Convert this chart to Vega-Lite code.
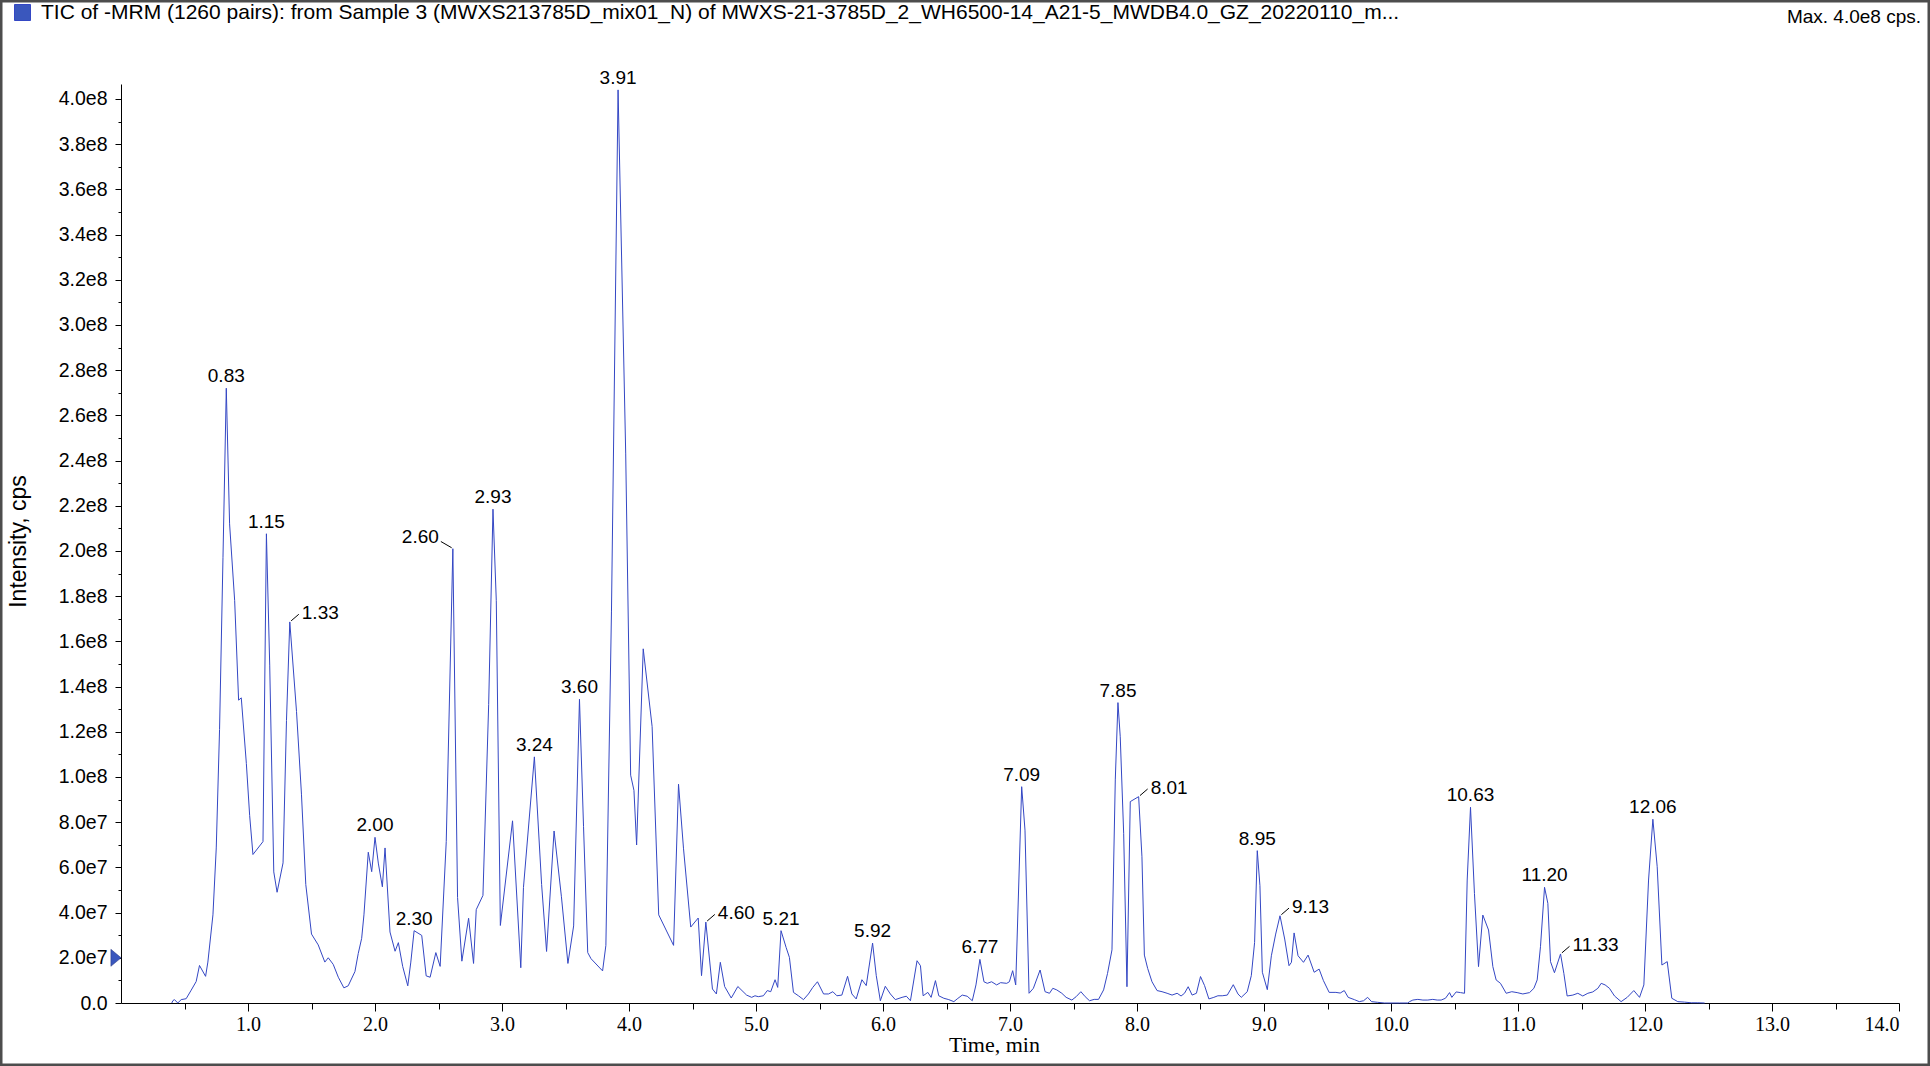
{
  "$schema": "https://vega.github.io/schema/vega-lite/v6.json",
  "width": 1930,
  "height": 1066,
  "autosize": {"type": "none"},
  "padding": 0,
  "background": "#ffffff",
  "title": {"text": "Max. 4.0e8 cps.", "anchor": "end", "align": "right", "frame": "group", "font": "Liberation Sans", "fontSize": 19, "fontWeight": "normal", "color": "#000000", "dy": 27, "dx": -9, "offset": 0},
  "config": {
    "view": {"stroke": "#4d4d4d", "strokeWidth": 5},
    "axis": {"domainColor": "#000000", "tickColor": "#000000", "labelColor": "#000000", "titleColor": "#000000", "grid": false, "domainWidth": 1, "tickWidth": 1}
  },
  "datasets": {
    "tic": [
      {"t":0.40,"i":0},{"t":0.408,"i":0.1e7},{"t":0.421,"i":0.15e7},{"t":0.447,"i":0},{"t":0.474,"i":0.15e7},{"t":0.513,"i":0.19e7},{"t":0.553,"i":0.57e7},{"t":0.592,"i":0.95e7},{"t":0.618,"i":1.66e7},{"t":0.666,"i":1.18e7},{"t":0.684,"i":1.81e7},{"t":0.724,"i":3.9e7},{"t":0.75,"i":6.86e7},{"t":0.776,"i":12.1e7},{"t":0.803,"i":19.7e7},{"t":0.829,"i":27.2e7},{"t":0.855,"i":21.2e7},{"t":0.895,"i":17.8e7},{"t":0.926,"i":13.4e7},{"t":0.947,"i":13.5e7},{"t":0.987,"i":10.6e7},{"t":1.013,"i":8.3e7},{"t":1.039,"i":6.57e7},{"t":1.118,"i":7.14e7},{"t":1.145,"i":20.76e7},{"t":1.171,"i":14.95e7},{"t":1.203,"i":5.8e7},{"t":1.229,"i":4.9e7},{"t":1.276,"i":6.2e7},{"t":1.303,"i":12.5e7},{"t":1.329,"i":16.86e7},{"t":1.382,"i":12.9e7},{"t":1.421,"i":9.24e7},{"t":1.455,"i":5.24e7},{"t":1.5,"i":3.05e7},{"t":1.553,"i":2.57e7},{"t":1.605,"i":1.81e7},{"t":1.632,"i":2.0e7},{"t":1.671,"i":1.71e7},{"t":1.711,"i":1.14e7},{"t":1.755,"i":0.67e7},{"t":1.789,"i":0.76e7},{"t":1.842,"i":1.39e7},{"t":1.868,"i":2.19e7},{"t":1.895,"i":2.86e7},{"t":1.913,"i":3.9e7},{"t":1.947,"i":6.67e7},{"t":1.974,"i":5.81e7},{"t":2.0,"i":7.33e7},{"t":2.026,"i":6.19e7},{"t":2.058,"i":5.14e7},{"t":2.079,"i":6.86e7},{"t":2.118,"i":3.14e7},{"t":2.158,"i":2.29e7},{"t":2.184,"i":2.67e7},{"t":2.218,"i":1.62e7},{"t":2.258,"i":0.76e7},{"t":2.282,"i":1.81e7},{"t":2.308,"i":3.2e7},{"t":2.368,"i":2.99e7},{"t":2.403,"i":1.2e7},{"t":2.434,"i":1.14e7},{"t":2.479,"i":2.23e7},{"t":2.513,"i":1.62e7},{"t":2.561,"i":7.14e7},{"t":2.613,"i":20.1e7},{"t":2.65,"i":4.67e7},{"t":2.684,"i":1.85e7},{"t":2.737,"i":3.75e7},{"t":2.776,"i":1.75e7},{"t":2.797,"i":4.13e7},{"t":2.85,"i":4.76e7},{"t":2.895,"i":13.2e7},{"t":2.929,"i":21.85e7},{"t":2.955,"i":17.8e7},{"t":2.987,"i":3.43e7},{"t":3.083,"i":8.06e7},{"t":3.148,"i":1.56e7},{"t":3.169,"i":5.11e7},{"t":3.255,"i":10.89e7},{"t":3.312,"i":5.24e7},{"t":3.351,"i":2.28e7},{"t":3.41,"i":7.61e7},{"t":3.468,"i":4.7e7},{"t":3.519,"i":1.75e7},{"t":3.564,"i":3.41e7},{"t":3.61,"i":13.44e7},{"t":3.642,"i":7.8e7},{"t":3.675,"i":2.23e7},{"t":3.701,"i":1.96e7},{"t":3.792,"i":1.42e7},{"t":3.818,"i":2.55e7},{"t":3.862,"i":17.34e7},{"t":3.914,"i":40.4e7},{"t":3.974,"i":24.33e7},{"t":4.013,"i":10.08e7},{"t":4.039,"i":9.41e7},{"t":4.06,"i":6.99e7},{"t":4.112,"i":15.67e7},{"t":4.182,"i":12.23e7},{"t":4.234,"i":3.9e7},{"t":4.351,"i":2.55e7},{"t":4.39,"i":9.68e7},{"t":4.429,"i":6.85e7},{"t":4.486,"i":3.36e7},{"t":4.545,"i":3.76e7},{"t":4.571,"i":1.21e7},{"t":4.605,"i":3.58e7},{"t":4.657,"i":0.62e7},{"t":4.688,"i":0.4e7},{"t":4.719,"i":1.8e7},{"t":4.753,"i":0.73e7},{"t":4.805,"i":0.22e7},{"t":4.857,"i":0.73e7},{"t":4.926,"i":0.35e7},{"t":4.966,"i":0.25e7},{"t":4.992,"i":0.32e7},{"t":5.018,"i":0.28e7},{"t":5.058,"i":0.32e7},{"t":5.089,"i":0.55e7},{"t":5.116,"i":0.5e7},{"t":5.15,"i":1.03e7},{"t":5.171,"i":0.69e7},{"t":5.197,"i":3.2e7},{"t":5.237,"i":2.46e7},{"t":5.263,"i":2.02e7},{"t":5.295,"i":0.47e7},{"t":5.334,"i":0.32e7},{"t":5.374,"i":0.15e7},{"t":5.413,"i":0.4e7},{"t":5.447,"i":0.69e7},{"t":5.484,"i":0.94e7},{"t":5.532,"i":0.4e7},{"t":5.571,"i":0.4e7},{"t":5.605,"i":0.5e7},{"t":5.637,"i":0.32e7},{"t":5.676,"i":0.35e7},{"t":5.721,"i":1.18e7},{"t":5.755,"i":0.4e7},{"t":5.789,"i":0.18e7},{"t":5.834,"i":1.03e7},{"t":5.868,"i":0.77e7},{"t":5.918,"i":2.65e7},{"t":5.947,"i":1.21e7},{"t":5.979,"i":0.1e7},{"t":6.018,"i":0.74e7},{"t":6.058,"i":0.4e7},{"t":6.097,"i":0.15e7},{"t":6.15,"i":0.25e7},{"t":6.184,"i":0.3e7},{"t":6.216,"i":0.1e7},{"t":6.268,"i":1.87e7},{"t":6.295,"i":1.65e7},{"t":6.316,"i":0.32e7},{"t":6.353,"i":0.47e7},{"t":6.379,"i":0.25e7},{"t":6.413,"i":0.99e7},{"t":6.439,"i":0.32e7},{"t":6.479,"i":0.21e7},{"t":6.518,"i":0.15e7},{"t":6.558,"i":0.06e7},{"t":6.584,"i":0.18e7},{"t":6.624,"i":0.35e7},{"t":6.663,"i":0.3e7},{"t":6.703,"i":0.1e7},{"t":6.732,"i":0.8e7},{"t":6.763,"i":1.93e7},{"t":6.795,"i":0.94e7},{"t":6.821,"i":0.87e7},{"t":6.855,"i":0.94e7},{"t":6.895,"i":0.8e7},{"t":6.926,"i":0.9e7},{"t":6.974,"i":0.87e7},{"t":6.995,"i":0.94e7},{"t":7.021,"i":1.43e7},{"t":7.045,"i":0.8e7},{"t":7.092,"i":9.57e7},{"t":7.118,"i":7.65e7},{"t":7.15,"i":0.43e7},{"t":7.184,"i":0.65e7},{"t":7.237,"i":1.46e7},{"t":7.276,"i":0.5e7},{"t":7.311,"i":0.43e7},{"t":7.337,"i":0.65e7},{"t":7.368,"i":0.58e7},{"t":7.408,"i":0.43e7},{"t":7.442,"i":0.25e7},{"t":7.487,"i":0.13e7},{"t":7.521,"i":0.28e7},{"t":7.558,"i":0.5e7},{"t":7.592,"i":0.28e7},{"t":7.626,"i":0.1e7},{"t":7.663,"i":0.16e7},{"t":7.697,"i":0.16e7},{"t":7.737,"i":0.58e7},{"t":7.768,"i":1.31e7},{"t":7.803,"i":2.35e7},{"t":7.829,"i":9.87e7},{"t":7.85,"i":13.29e7},{"t":7.868,"i":11.78e7},{"t":7.895,"i":7.51e7},{"t":7.921,"i":0.72e7},{"t":7.947,"i":8.91e7},{"t":8.013,"i":9.13e7},{"t":8.039,"i":6.47e7},{"t":8.058,"i":2.12e7},{"t":8.084,"i":1.53e7},{"t":8.118,"i":0.94e7},{"t":8.158,"i":0.55e7},{"t":8.197,"i":0.5e7},{"t":8.237,"i":0.43e7},{"t":8.276,"i":0.35e7},{"t":8.316,"i":0.43e7},{"t":8.347,"i":0.31e7},{"t":8.374,"i":0.43e7},{"t":8.403,"i":0.72e7},{"t":8.434,"i":0.35e7},{"t":8.468,"i":0.43e7},{"t":8.5,"i":1.17e7},{"t":8.532,"i":0.77e7},{"t":8.566,"i":0.18e7},{"t":8.605,"i":0.25e7},{"t":8.637,"i":0.32e7},{"t":8.671,"i":0.32e7},{"t":8.711,"i":0.35e7},{"t":8.758,"i":0.81e7},{"t":8.795,"i":0.4e7},{"t":8.821,"i":0.25e7},{"t":8.868,"i":0.5e7},{"t":8.9,"i":1.21e7},{"t":8.926,"i":2.68e7},{"t":8.947,"i":6.74e7},{"t":8.968,"i":5.19e7},{"t":8.987,"i":1.36e7},{"t":9.026,"i":0.59e7},{"t":9.058,"i":2.09e7},{"t":9.092,"i":3.05e7},{"t":9.126,"i":3.86e7},{"t":9.163,"i":2.83e7},{"t":9.197,"i":1.65e7},{"t":9.216,"i":1.8e7},{"t":9.237,"i":3.1e7},{"t":9.268,"i":2.09e7},{"t":9.311,"i":1.8e7},{"t":9.347,"i":2.12e7},{"t":9.395,"i":1.36e7},{"t":9.434,"i":1.5e7},{"t":9.468,"i":0.99e7},{"t":9.513,"i":0.47e7},{"t":9.566,"i":0.47e7},{"t":9.6,"i":0.44e7},{"t":9.632,"i":0.55e7},{"t":9.663,"i":0.25e7},{"t":9.711,"i":0.15e7},{"t":9.75,"i":0.06e7},{"t":9.784,"i":0.1e7},{"t":9.816,"i":0.25e7},{"t":9.847,"i":0.06e7},{"t":9.895,"i":0.03e7},{"t":9.947,"i":0},{"t":10.0,"i":0},{"t":10.066,"i":0},{"t":10.132,"i":0},{"t":10.146,"i":0.06e7},{"t":10.172,"i":0.13e7},{"t":10.211,"i":0.16e7},{"t":10.251,"i":0.13e7},{"t":10.29,"i":0.13e7},{"t":10.329,"i":0.16e7},{"t":10.364,"i":0.13e7},{"t":10.395,"i":0.13e7},{"t":10.429,"i":0.21e7},{"t":10.461,"i":0.46e7},{"t":10.479,"i":0.25e7},{"t":10.513,"i":0.49e7},{"t":10.547,"i":0.46e7},{"t":10.579,"i":0.43e7},{"t":10.6,"i":5.44e7},{"t":10.626,"i":8.66e7},{"t":10.657,"i":4.85e7},{"t":10.689,"i":1.61e7},{"t":10.723,"i":3.89e7},{"t":10.768,"i":3.23e7},{"t":10.802,"i":1.61e7},{"t":10.828,"i":1.02e7},{"t":10.862,"i":0.87e7},{"t":10.907,"i":0.43e7},{"t":10.951,"i":0.5e7},{"t":10.993,"i":0.46e7},{"t":11.038,"i":0.4e7},{"t":11.091,"i":0.46e7},{"t":11.125,"i":0.65e7},{"t":11.151,"i":1.02e7},{"t":11.177,"i":2.49e7},{"t":11.209,"i":5.12e7},{"t":11.235,"i":4.41e7},{"t":11.256,"i":1.83e7},{"t":11.287,"i":1.34e7},{"t":11.335,"i":2.17e7},{"t":11.361,"i":1.31e7},{"t":11.387,"i":0.31e7},{"t":11.432,"i":0.35e7},{"t":11.471,"i":0.43e7},{"t":11.51,"i":0.31e7},{"t":11.55,"i":0.43e7},{"t":11.589,"i":0.49e7},{"t":11.629,"i":0.65e7},{"t":11.655,"i":0.87e7},{"t":11.686,"i":0.8e7},{"t":11.72,"i":0.65e7},{"t":11.76,"i":0.31e7},{"t":11.812,"i":0.06e7},{"t":11.86,"i":0.25e7},{"t":11.912,"i":0.55e7},{"t":11.957,"i":0.25e7},{"t":11.991,"i":0.8e7},{"t":12.028,"i":5.44e7},{"t":12.062,"i":8.13e7},{"t":12.096,"i":6.03e7},{"t":12.133,"i":1.68e7},{"t":12.175,"i":1.83e7},{"t":12.211,"i":0.21e7},{"t":12.258,"i":0.06e7},{"t":12.311,"i":0.04e7},{"t":12.364,"i":0.01e7},{"t":12.416,"i":0.01e7},{"t":12.469,"i":0}
    ],
    "peaksC": [
      {"t":0.829,"i":27.2e7,"label":"0.83"},{"t":1.145,"i":20.76e7,"label":"1.15"},{"t":2.0,"i":7.33e7,"label":"2.00"},{"t":2.308,"i":3.2e7,"label":"2.30"},{"t":2.929,"i":21.85e7,"label":"2.93"},{"t":3.255,"i":10.89e7,"label":"3.24"},{"t":3.61,"i":13.44e7,"label":"3.60"},{"t":3.914,"i":40.4e7,"label":"3.91"},{"t":5.197,"i":3.2e7,"label":"5.21"},{"t":5.918,"i":2.65e7,"label":"5.92"},{"t":6.763,"i":1.93e7,"label":"6.77"},{"t":7.092,"i":9.57e7,"label":"7.09"},{"t":7.85,"i":13.29e7,"label":"7.85"},{"t":8.947,"i":6.74e7,"label":"8.95"},{"t":10.626,"i":8.66e7,"label":"10.63"},{"t":11.209,"i":5.12e7,"label":"11.20"},{"t":12.062,"i":8.13e7,"label":"12.06"}
    ],
    "peaksR": [
      {"t":1.329,"i":16.86e7,"label":"1.33"},{"t":4.605,"i":3.58e7,"label":"4.60"},{"t":8.013,"i":9.13e7,"label":"8.01"},{"t":9.126,"i":3.86e7,"label":"9.13"},{"t":11.335,"i":2.17e7,"label":"11.33"}
    ],
    "peaksL": [
      {"t":2.613,"i":20.1e7,"label":"2.60"}
    ],
    "marker": [
      {"t":0,"i":2e7}
    ]
  },
  "encoding": {
    "x": {
      "field": "t", "type": "quantitative",
      "scale": {"domain": [0, 14], "range": [121, 1899], "nice": false, "zero": false},
      "axis": {
        "orient": "bottom", "offset": -63, "title": "Time, min",
        "values": [0.5,1,1.5,2,2.5,3,3.5,4,4.5,5,5.5,6,6.5,7,7.5,8,8.5,9,9.5,10,10.5,11,11.5,12,12.5,13,13.5,14],
        "labelExpr": "datum.value % 1 === 0 ? format(datum.value, '.1f') : ''",
        "tickSize": {"condition": {"test": "datum.value % 1 === 0", "value": 8}, "value": 6},
        "labelFont": "Liberation Sans Narrow", "labelFontSize": 20, "labelPadding": 3, "labelOverlap": false,
        "titleFont": "Liberation Sans Narrow", "titleFontSize": 22, "titleFontWeight": "normal", "titlePadding": 0, "titleX": 994
      }
    },
    "y": {
      "field": "i", "type": "quantitative",
      "scale": {"domain": [0, 406600000], "range": [1003, 84], "nice": false, "zero": false},
      "axis": {
        "orient": "left", "offset": -121, "title": "Intensity, cps",
        "values": [0,1e7,2e7,3e7,4e7,5e7,6e7,7e7,8e7,9e7,1e8,1.1e8,1.2e8,1.3e8,1.4e8,1.5e8,1.6e8,1.7e8,1.8e8,1.9e8,2e8,2.1e8,2.2e8,2.3e8,2.4e8,2.5e8,2.6e8,2.7e8,2.8e8,2.9e8,3e8,3.1e8,3.2e8,3.3e8,3.4e8,3.5e8,3.6e8,3.7e8,3.8e8,3.9e8,4e8],
        "labelExpr": "datum.value === 0 ? '0.0' : (round(datum.value / 1e7) % 2 === 0 ? replace(format(datum.value, '.1e'), 'e+', 'e') : '')",
        "tickSize": {"condition": {"test": "round(datum.value / 1e7) % 2 === 0", "value": 6}, "value": 3},
        "labelFont": "Liberation Sans", "labelFontSize": 19.5, "labelPadding": 8, "labelOverlap": false,
        "titleFont": "Liberation Sans", "titleFontSize": 23, "titleFontWeight": "normal",
        "titleX": -103, "titleY": 541, "titleBaseline": "middle", "titleAngle": -90
      }
    }
  },
  "layer": [
    {
      "data": {"name": "tic"},
      "mark": {"type": "line", "strokeWidth": 1, "interpolate": "linear"},
      "encoding": {
        "color": {
          "datum": "TIC of -MRM (1260 pairs): from Sample 3 (MWXS213785D_mix01_N) of MWXS-21-3785D_2_WH6500-14_A21-5_MWDB4.0_GZ_20220110_m...",
          "type": "nominal",
          "scale": {"range": ["#3447c4"]},
          "legend": {
            "orient": "none", "legendX": 12, "legendY": 2, "title": null, "padding": 0,
            "symbolType": "square", "symbolSize": 256, "labelFont": "Liberation Sans", "labelFontSize": 21,
            "labelColor": "#000000", "labelLimit": 1900, "labelOffset": 8,
            "encode": {"symbols": {"update": {"fill": {"value": "#3a57bd"}, "stroke": {"value": "#222222"}, "strokeWidth": {"value": 1}, "opacity": {"value": 1}}}}
          }
        }
      }
    },
    {
      "data": {"name": "peaksC"},
      "mark": {"type": "text", "align": "center", "baseline": "alphabetic", "dy": -6, "font": "Liberation Sans", "fontSize": 19, "color": "#000000"},
      "encoding": {"text": {"field": "label"}}
    },
    {
      "data": {"name": "peaksR"},
      "mark": {"type": "text", "align": "left", "baseline": "middle", "dx": 12, "dy": -9, "font": "Liberation Sans", "fontSize": 19, "color": "#000000"},
      "encoding": {"text": {"field": "label"}}
    },
    {
      "data": {"name": "peaksR"},
      "mark": {"type": "point", "shape": "M0.15,-0.12L1,-0.85", "size": 324, "filled": false, "color": "#000000", "strokeWidth": 1, "opacity": 1}
    },
    {
      "data": {"name": "peaksL"},
      "mark": {"type": "text", "align": "right", "baseline": "middle", "dx": -14, "dy": -12, "font": "Liberation Sans", "fontSize": 19, "color": "#000000"},
      "encoding": {"text": {"field": "label"}}
    },
    {
      "data": {"name": "peaksL"},
      "mark": {"type": "point", "shape": "M-0.1,-0.08L-1,-0.6", "size": 576, "filled": false, "color": "#000000", "strokeWidth": 1, "opacity": 1}
    },
    {
      "data": {"name": "marker"},
      "mark": {"type": "point", "shape": "M-0.6,-1L0.6,0L-0.6,1Z", "size": 289, "filled": true, "fill": "#3a57bd", "stroke": "#26337a", "strokeWidth": 0.5, "opacity": 1, "xOffset": -5}
    }
  ]
}
